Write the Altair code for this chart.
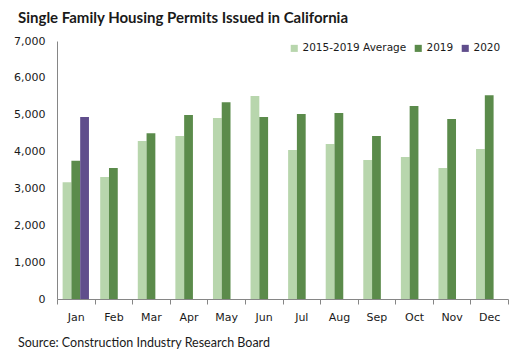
import altair as alt
import pandas as pd

months = ["Jan", "Feb", "Mar", "Apr", "May", "Jun", "Jul", "Aug", "Sep", "Oct", "Nov", "Dec"]
series = ["2015-2019 Average", "2019", "2020"]
avg_2015_2019 = [3170, 3310, 4285, 4420, 4910, 5505, 4040, 4205, 3770, 3855, 3555, 4070]
y2019 = [3750, 3555, 4500, 4990, 5340, 4935, 5020, 5045, 4420, 5235, 4885, 5530]
y2020 = [4935]
colors = ["#B8D6AD", "#5B8B4B", "#604E8C"]

title_text = "Single Family Housing Permits Issued in California"
source_text = "Source: Construction Industry Research Board"

rows = []
for m, v in zip(months, avg_2015_2019):
    rows.append({"month": m, "series": series[0], "value": v})
for m, v in zip(months, y2019):
    rows.append({"month": m, "series": series[1], "value": v})
for m, v in zip(months, y2020):
    rows.append({"month": m, "series": series[2], "value": v})
df = pd.DataFrame(rows)

W, H = 451, 258

bars = alt.Chart(df).mark_bar().encode(
    x=alt.X("month:N", sort=months, title=None,
            scale=alt.Scale(paddingInner=0, paddingOuter=0),
            axis=alt.Axis(labelAngle=0, bandPosition=0, tickBand="extent", tickSize=5,
                          domainColor="#868686", tickColor="#868686",
                          labelFont="DejaVu Sans", labelFontSize=11, labelColor="#1a1a1a",
                          labelPadding=7)),
    xOffset=alt.XOffset("series:N", sort=series,
                        scale=alt.Scale(domain=series, paddingInner=0, paddingOuter=0.64)),
    y=alt.Y("value:Q", title=None,
            scale=alt.Scale(domain=[0, 7000], nice=False),
            axis=alt.Axis(values=list(range(0, 7001, 1000)), format=",.0f", grid=False,
                          ticks=False, domainColor="#868686",
                          labelFont="DejaVu Sans", labelFontSize=11, labelColor="#1a1a1a",
                          labelPadding=12)),
    color=alt.Color("series:N", sort=series,
                    scale=alt.Scale(domain=series, range=colors),
                    legend=alt.Legend(title=None, orient="none", direction="horizontal",
                                      legendX=232, legendY=2, symbolType="square",
                                      symbolSize=50, symbolStrokeWidth=0,
                                      symbolOpacity=1,
                                      labelFont="DejaVu Sans", labelFontSize=10.5,
                                      labelColor="#1a1a1a", labelOffset=3,
                                      columnPadding=6)),
)

title = alt.Chart(pd.DataFrame({"t": [title_text]})).mark_text(
    align="left", baseline="middle", font="Lato", fontSize=15, fontWeight="bold",
    color="#1a1a1a"
).encode(text="t:N", x=alt.value(-39), y=alt.value(-23))

source = alt.Chart(pd.DataFrame({"t": [source_text]})).mark_text(
    align="left", baseline="middle", font="Lato", fontSize=12.5, color="#1a1a1a"
).encode(text="t:N", x=alt.value(-39), y=alt.value(302))

chart = alt.layer(bars, title, source).properties(
    width=W, height=H,
    autosize=alt.AutoSizeParams(type="none"),
    padding={"left": 49, "top": 33, "right": 8, "bottom": 50},
).configure_view(stroke=None)

chart.save("out.html", embed_options={"renderer": "svg", "actions": False})
